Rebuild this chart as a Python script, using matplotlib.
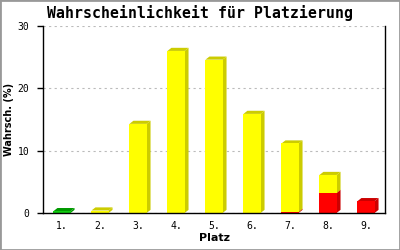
import matplotlib.pyplot as plt
import numpy as np
from matplotlib.patches import Rectangle

# Werte pro Platz (%)
places = ['1.', '2.', '3.', '4.', '5.', '6.', '7.', '8.', '9.']
red = [0, 0, 0, 0, 0, 0, 0.15, 3.2, 1.9]
green = [0.3, 0, 0, 0, 0, 0, 0, 0, 0]
yellow = [0, 0.4, 14.3, 26.0, 24.6, 15.9, 11.0, 2.9, 0]

series = [(red, '#ff0000', '#cc0000'),
          (green, '#11cc11', '#009900'),
          (yellow, '#ffff00', '#cccc00')]

fig = plt.figure(figsize=(4, 2.5), dpi=100)
ax = fig.add_axes([0.1075, 0.148, 0.855, 0.748])

x = np.arange(1, 10)
w = 0.45
dx, dy = 0.105, 0.5

# Balken mit einfachem 3D-Effekt (Seite + Deckel)
bottom = np.zeros(9)
for vals, c, dark in series:
    for i, v in enumerate(vals):
        if v <= 0:
            continue
        b = bottom[i]
        t = b + v
        l, r = x[i] - w / 2, x[i] + w / 2
        ax.fill([r, r + dx, r + dx, r], [b, b + dy, t + dy, t], color=dark, lw=0, zorder=2)
        ax.fill([l, l + dx, r + dx, r], [t, t + dy, t + dy, t], color=dark, lw=0, zorder=2)
        ax.bar(x[i], v, w, bottom=b, color=c, zorder=2)
    bottom += np.array(vals)

ax.set_xlim(0.5, 9.5)
ax.set_ylim(0, 30)
ax.set_yticks([0, 10, 20, 30])
ax.set_xticks(x)
ax.set_xticklabels(places)
ax.tick_params(axis='x', length=0, pad=6, labelsize=7)
ax.tick_params(axis='y', length=4, width=1, pad=6, labelsize=7)
for lab in ax.get_xticklabels() + ax.get_yticklabels():
    lab.set_family('DejaVu Sans Mono')
ax.yaxis.grid(True, color='#bbbbbb', linestyle=(0, (2, 3)), linewidth=0.8, zorder=0)
ax.set_axisbelow(True)
ax.spines['top'].set_visible(False)
for s in ['left', 'right', 'bottom']:
    ax.spines[s].set_linewidth(1)

ax.set_xlabel('Platz', weight='bold', fontsize=8)
ax.xaxis.set_label_coords(0.5, -0.105)
ax.set_ylabel('Wahrsch. (%)', weight='bold', fontsize=7)
ax.yaxis.set_label_coords(-0.1, 0.5)
ax.yaxis.label.set_va('center')
fig.text(0.5, 0.947, 'Wahrscheinlichkeit für Platzierung', ha='center', va='center',
         family='DejaVu Sans Mono', weight='bold', fontsize=10.7)

fig.patches.append(Rectangle((0, 0), 1, 1, transform=fig.transFigure, fill=False,
                             edgecolor='#999999', linewidth=2))

fig.savefig('out.png', dpi=100)
